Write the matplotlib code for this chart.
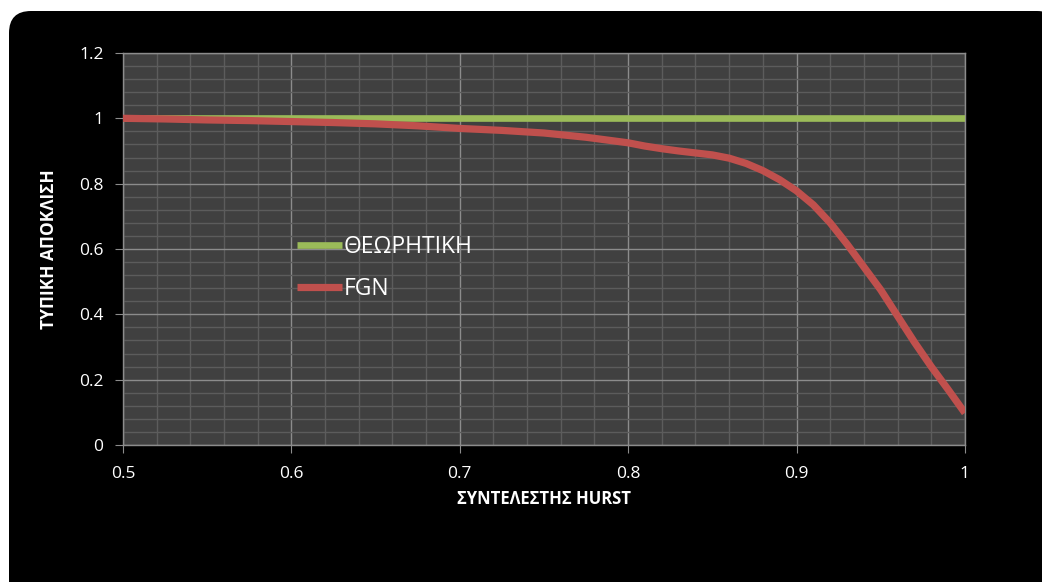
import numpy as np
import matplotlib.pyplot as plt
from matplotlib.patches import FancyBboxPatch
from matplotlib.ticker import MultipleLocator, FuncFormatter

# values
hurst = [0.5, 0.525, 0.55, 0.575, 0.6, 0.625, 0.65, 0.675, 0.7, 0.725, 0.75,
         0.775, 0.8, 0.81, 0.82, 0.83, 0.84, 0.85, 0.86, 0.87, 0.88, 0.89,
         0.9, 0.91, 0.92, 0.93, 0.94, 0.95, 0.96, 0.97, 0.98, 0.99, 1.0]
fgn = [1.0, 0.998, 0.995, 0.993, 0.99, 0.987, 0.983, 0.977, 0.969, 0.963, 0.955,
       0.942, 0.925, 0.915, 0.907, 0.9, 0.894, 0.888, 0.878, 0.862, 0.84, 0.812,
       0.778, 0.735, 0.68, 0.615, 0.545, 0.475, 0.395, 0.315, 0.24, 0.17, 0.098]
theory_x = [0.5, 1.0]
theory_y = [1.0, 1.0]

plt.rcParams['font.family'] = ['Open Sans', 'DejaVu Sans']

fig = plt.figure(figsize=(10.42, 5.82), dpi=100, facecolor='white')
bg = FancyBboxPatch((0.09, -0.5), 10.5, 6.21, boxstyle='round,pad=0,rounding_size=0.22',
                    transform=fig.dpi_scale_trans, facecolor='black', edgecolor='none',
                    zorder=-10)
fig.patches.append(bg)

ax = fig.add_axes([0.118, 0.2354, 0.808, 0.6736])
ax.set_facecolor('#404040')

ax.plot(theory_x, theory_y, color='#9BBB59', lw=4.8, solid_capstyle='butt', label='ΘΕΩΡΗΤΙΚΗ', zorder=3)
ax.plot(hurst, fgn, color='#C0504D', lw=5.2, solid_capstyle='butt', solid_joinstyle='round',
        label='FGN', zorder=4)

ax.set_xlim(0.5, 1.0)
ax.set_ylim(0, 1.2)
ax.xaxis.set_major_locator(MultipleLocator(0.1))
ax.xaxis.set_minor_locator(MultipleLocator(0.02))
ax.yaxis.set_major_locator(MultipleLocator(0.2))
ax.yaxis.set_minor_locator(MultipleLocator(0.04))
fmt = FuncFormatter(lambda v, p: ('%.1f' % v).rstrip('0').rstrip('.') if v != 0 else '0')
ax.xaxis.set_major_formatter(fmt)
ax.yaxis.set_major_formatter(fmt)

ax.grid(which='major', color='#8c8c8c', lw=1.0, zorder=1)
ax.grid(which='minor', color='#5c5c5c', lw=1.0, zorder=1)
ax.set_axisbelow(True)
for s in ax.spines.values():
    s.set_color('#8c8c8c')
    s.set_linewidth(1.0)

ax.tick_params(which='major', colors='#8c8c8c', labelcolor='white', labelsize=12.5, length=6)
ax.tick_params(which='minor', length=0)
ax.tick_params(axis='x', pad=9)
ax.tick_params(axis='y', pad=8)

ax.set_xlabel('ΣΥΝΤΕΛΕΣΤΗΣ HURST', color='white', fontsize=12, fontweight='bold', labelpad=6)
ax.set_ylabel('ΤΥΠΙΚΗ ΑΠΟΚΛΙΣΗ', color='white', fontsize=12.5, fontweight='bold', labelpad=15)

leg = ax.legend(loc='upper left', bbox_to_anchor=(0.196, 0.56), frameon=False,
                fontsize=16.5, handlelength=1.95, handletextpad=0.08, labelspacing=0.8,
                borderaxespad=0)
for t in leg.get_texts():
    t.set_color('white')

fig.savefig('out.png', dpi=100, facecolor='white')
